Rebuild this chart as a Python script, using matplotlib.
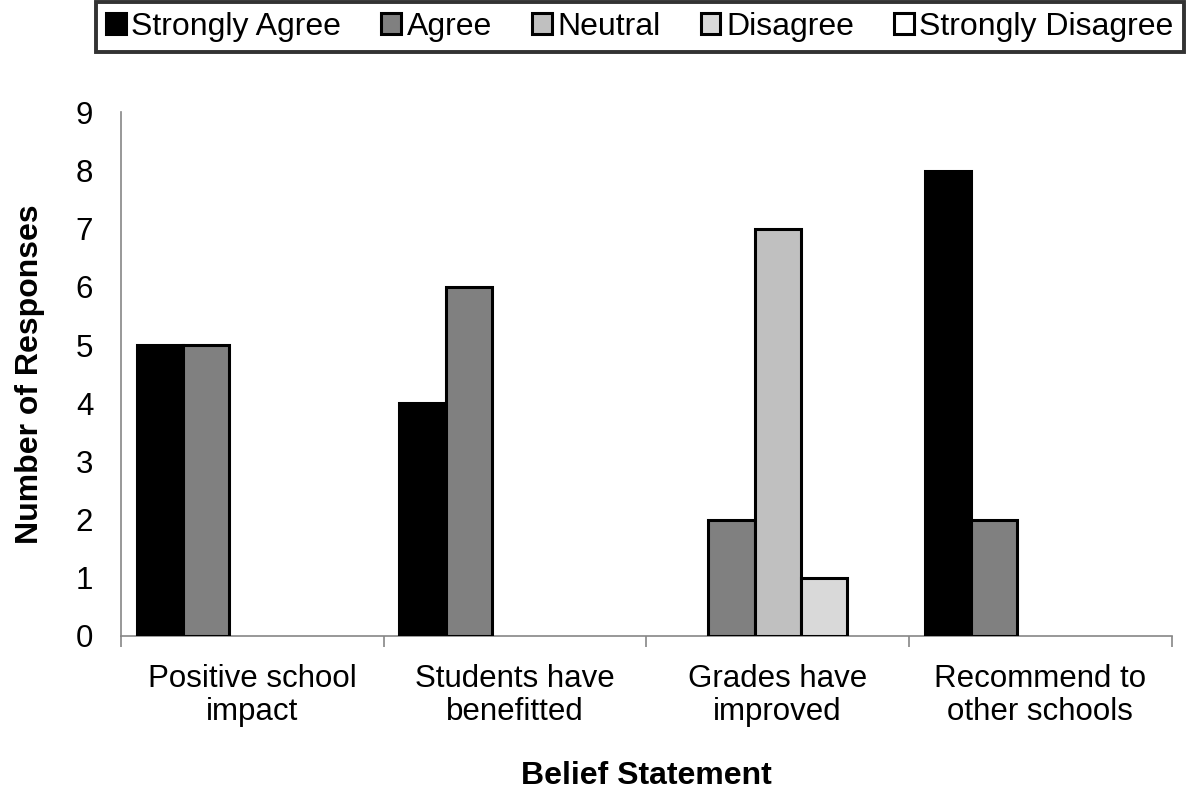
import matplotlib
matplotlib.use("Agg")
import matplotlib.pyplot as plt
import numpy as np

plt.rcParams['font.family'] = ['Liberation Sans', 'DejaVu Sans']

statements = ["Positive school\nimpact", "Students have\nbenefitted",
              "Grades have\nimproved", "Recommend to\nother schools"]
responses = ["Strongly Agree", "Agree", "Neutral", "Disagree", "Strongly Disagree"]
strongly_agree = [5, 4, 0, 8]
agree = [5, 6, 2, 2]
neutral = [0, 0, 7, 0]
disagree = [0, 0, 1, 0]
strongly_disagree = [0, 0, 0, 0]
series = [strongly_agree, agree, neutral, disagree, strongly_disagree]
colors = ["#000000", "#808080", "#c0c0c0", "#d9d9d9", "#ffffff"]

fig = plt.figure(figsize=(11.98, 7.91), dpi=100)
ax = fig.add_axes([0.101, 0.196, 0.877, 0.662])

x = np.arange(len(statements))
width = 0.176
handles = []
for i, (vals, col, name) in enumerate(zip(series, colors, responses)):
    bars = ax.bar(x + (i - 2) * width, vals, width, color=col,
                  edgecolor="black", linewidth=2.2, label=name, zorder=3)
    for b, v in zip(bars, vals):
        if v == 0:
            b.set_visible(False)
    handles.append(plt.Rectangle((0, 0), 1, 1, facecolor=col,
                                 edgecolor="black", linewidth=2.2))

ax.set_xlim(-0.5, len(statements) - 0.5)
ax.set_ylim(0, 9)
ax.set_yticks(range(0, 10))
ax.tick_params(axis="y", length=0, labelsize=22.5, pad=20)

ax.set_xticks(x)
ax.set_xticklabels(statements, fontsize=22.5, linespacing=1.15)
ax.set_xticks(np.arange(-0.5, len(statements), 1), minor=True)
ax.tick_params(axis="x", which="major", length=0, pad=20)
ax.tick_params(axis="x", which="minor", length=8, width=1.2, color="#868686")

for s in ["top", "right"]:
    ax.spines[s].set_visible(False)
for s in ["left", "bottom"]:
    ax.spines[s].set_color("#868686")
    ax.spines[s].set_linewidth(1.2)

ax.set_ylabel("Number of Responses", fontsize=23, fontweight="bold", labelpad=22)
ax.set_xlabel("Belief Statement", fontsize=23, fontweight="bold", labelpad=24)

leg = fig.legend(handles, responses, loc="upper center",
                 bbox_to_anchor=(0.534, 0.998),
                 ncol=5, fontsize=23, frameon=True, fancybox=False,
                 handlelength=0.62, handleheight=0.62, handletextpad=0.18,
                 columnspacing=1.25, borderaxespad=0, borderpad=0.32)
leg.get_frame().set_edgecolor("black")
leg.get_frame().set_linewidth(2.8)

fig.savefig("out.png", dpi=100)
